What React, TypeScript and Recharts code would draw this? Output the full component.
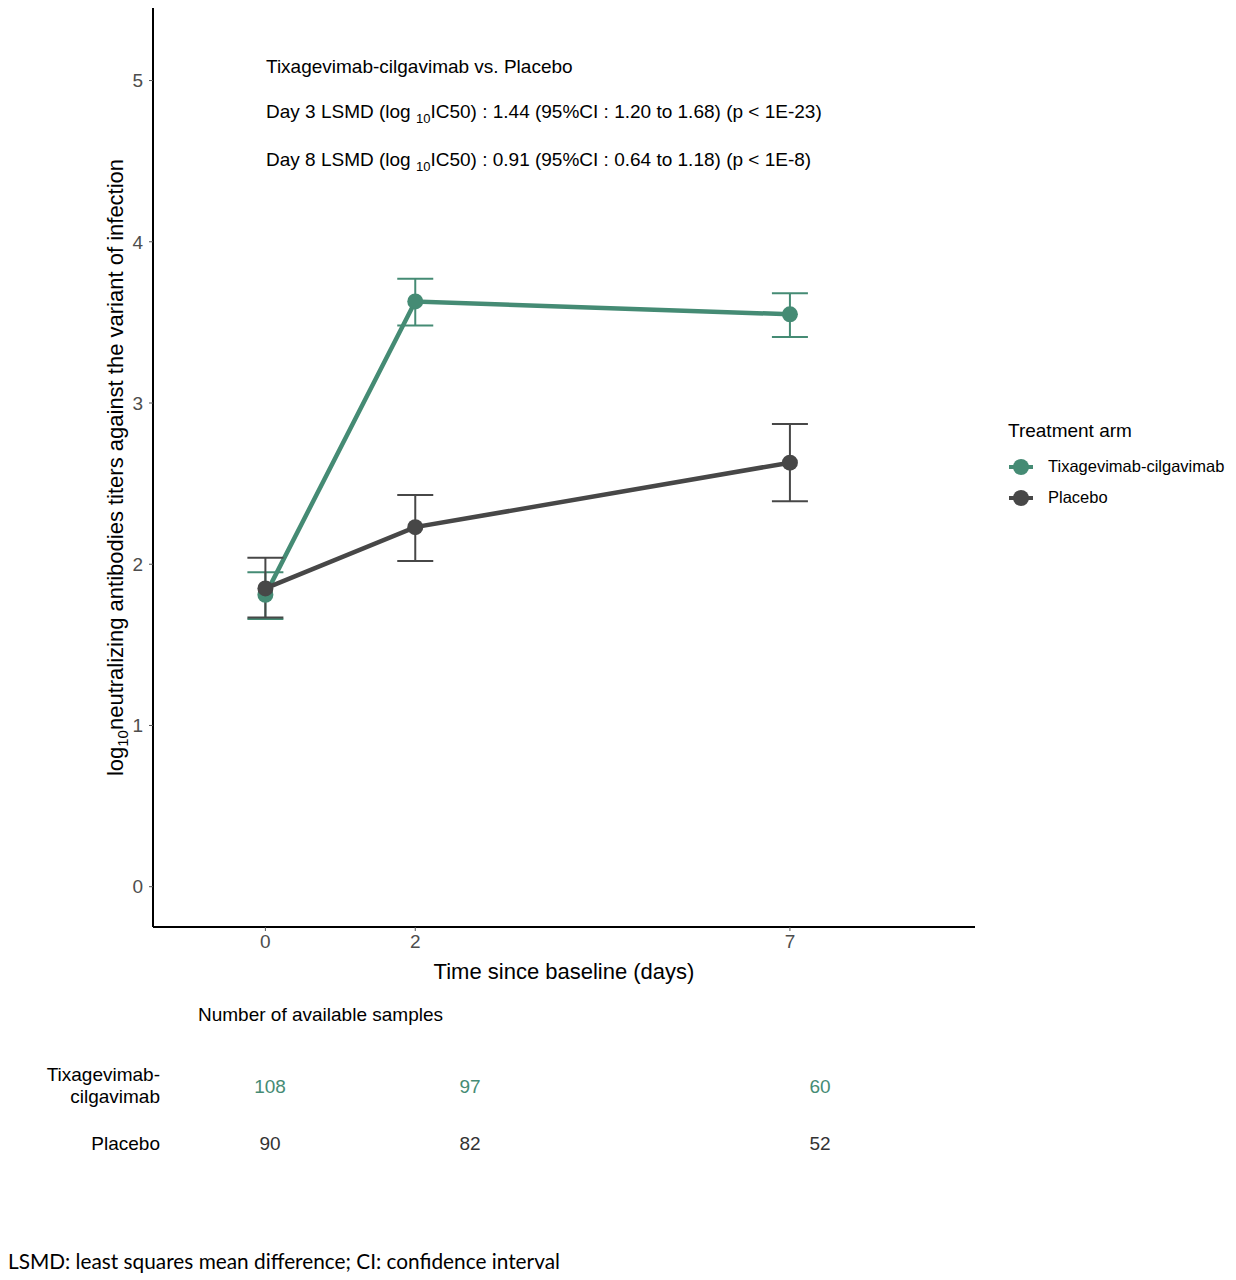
import { LineChart, Line, XAxis, YAxis, ErrorBar } from 'recharts';

// values (log10 IC50, mean and 95% CI)
const DAYS = [0, 2, 7];
const TIXA_MEAN = [1.81, 3.63, 3.55];
const TIXA_LOW = [1.66, 3.48, 3.41];
const TIXA_HIGH = [1.95, 3.77, 3.68];
const PLACEBO_MEAN = [1.85, 2.23, 2.63];
const PLACEBO_LOW = [1.67, 2.02, 2.39];
const PLACEBO_HIGH = [2.04, 2.43, 2.87];
const Y_TICKS = [0, 1, 2, 3, 4, 5];

const N_TIXA = [108, 97, 60];
const N_PLACEBO = [90, 82, 52];

const GREEN = '#458B74';
const DARK = '#474747';
const FONT = '"Liberation Sans", Arial, sans-serif';

const data = DAYS.map((day, i) => ({
  day,
  tixa: TIXA_MEAN[i],
  tixaErr: [TIXA_MEAN[i] - TIXA_LOW[i], TIXA_HIGH[i] - TIXA_MEAN[i]],
  placebo: PLACEBO_MEAN[i],
  placeboErr: [PLACEBO_MEAN[i] - PLACEBO_LOW[i], PLACEBO_HIGH[i] - PLACEBO_MEAN[i]],
}));

function YLabel(props: any) {
  const vb = props.viewBox || {};
  const cx = 115;
  const cy = (vb.y ?? 8) + (vb.height ?? 919) / 2;
  return (
    <text
      x={cx}
      y={cy}
      transform={`rotate(-90, ${cx}, ${cy})`}
      textAnchor="middle"
      dominantBaseline="central"
      fontSize={22}
      fill="#000"
      fontFamily={FONT}
    >
      <tspan>log</tspan>
      <tspan dy={7} fontSize={15}>10</tspan>
      <tspan dy={-7}>neutralizing antibodies titers against the variant of infection</tspan>
    </text>
  );
}

function LegendIcon({ color }: { color: string }) {
  return (
    <svg width={26} height={18} style={{ display: 'block' }}>
      <line x1={1} y1={9} x2={25} y2={9} stroke={color} strokeWidth={4} />
      <circle cx={13} cy={9} r={8} fill={color} />
    </svg>
  );
}

const annot: React.CSSProperties = {
  position: 'absolute',
  left: 266,
  fontSize: 19,
  fontFamily: FONT,
  color: '#000',
  whiteSpace: 'nowrap',
  lineHeight: '22px',
};

export default function App() {
  return (
    <div style={{ position: 'absolute', left: 0, top: 0, width: 1236, height: 1280, background: '#fff', fontFamily: FONT }}>
      <LineChart width={1236} height={990} data={data} margin={{ top: 8, right: 261, bottom: 0, left: 0 }}>
        <XAxis
          dataKey="day"
          type="number"
          domain={[-1.5, 9.47]}
          ticks={DAYS}
          height={63}
          axisLine={{ stroke: '#000', strokeWidth: 2 }}
          tickLine={{ stroke: '#555' }}
          tickSize={4}
          tickMargin={4}
          tick={{ fill: '#4D4D4D', fontSize: 19, fontFamily: FONT }}
          label={{ value: 'Time since baseline (days)', position: 'insideBottom', offset: 11, fontSize: 22, fill: '#000', fontFamily: FONT }}
        />
        <YAxis
          type="number"
          domain={[-0.25, 5.45]}
          ticks={Y_TICKS}
          width={153}
          allowDataOverflow
          axisLine={{ stroke: '#000', strokeWidth: 2 }}
          tickLine={{ stroke: '#555' }}
          tickSize={4}
          tickMargin={6}
          tick={{ fill: '#4D4D4D', fontSize: 19, fontFamily: FONT }}
          label={{ content: (p: any) => <YLabel {...p} /> }}
        />
        <Line
          dataKey="tixa"
          stroke={GREEN}
          strokeWidth={4.5}
          dot={{ r: 8, fill: GREEN, stroke: GREEN, strokeWidth: 0 }}
          activeDot={false}
          isAnimationActive={false}
        >
          <ErrorBar dataKey="tixaErr" direction="y" width={18} stroke={GREEN} strokeWidth={2} isAnimationActive={false} />
        </Line>
        <Line
          dataKey="placebo"
          stroke={DARK}
          strokeWidth={4.5}
          dot={{ r: 8, fill: DARK, stroke: DARK, strokeWidth: 0 }}
          activeDot={false}
          isAnimationActive={false}
        >
          <ErrorBar dataKey="placeboErr" direction="y" width={18} stroke={DARK} strokeWidth={2} isAnimationActive={false} />
        </Line>
      </LineChart>

      {/* annotation inside the plot */}
      <div style={{ ...annot, top: 56 }}>Tixagevimab-cilgavimab vs. Placebo</div>
      <div style={{ ...annot, top: 101 }}>
        Day 3 LSMD (log <sub style={{ fontSize: 13 }}>10</sub>IC50) : 1.44 (95%CI : 1.20 to 1.68) (p &lt; 1E-23)
      </div>
      <div style={{ ...annot, top: 149 }}>
        Day 8 LSMD (log <sub style={{ fontSize: 13 }}>10</sub>IC50) : 0.91 (95%CI : 0.64 to 1.18) (p &lt; 1E-8)
      </div>

      {/* legend */}
      <div style={{ position: 'absolute', left: 1008, top: 420, fontSize: 19, color: '#000' }}>Treatment arm</div>
      {[
        { name: 'Tixagevimab-cilgavimab', color: GREEN, top: 457 },
        { name: 'Placebo', color: DARK, top: 488 },
      ].map((it) => (
        <div key={it.name} style={{ position: 'absolute', left: 1008, top: it.top, display: 'flex', alignItems: 'center', fontSize: 16.5, color: '#000' }}>
          <LegendIcon color={it.color} />
          <span style={{ marginLeft: 14 }}>{it.name}</span>
        </div>
      ))}

      {/* sample size table */}
      <div style={{ position: 'absolute', left: 198, top: 1004, fontSize: 19, color: '#000' }}>Number of available samples</div>
      <div style={{ position: 'absolute', right: 1236 - 160, top: 1064, fontSize: 19, color: '#000', textAlign: 'right', lineHeight: '22px' }}>
        Tixagevimab-<br />cilgavimab
      </div>
      <div style={{ position: 'absolute', right: 1236 - 160, top: 1133, fontSize: 19, color: '#000', textAlign: 'right' }}>Placebo</div>
      {[270, 470, 820].map((x, i) => (
        <div key={'t' + i}>
          <div style={{ position: 'absolute', left: x - 40, width: 80, top: 1076, textAlign: 'center', fontSize: 19, color: GREEN }}>{N_TIXA[i]}</div>
          <div style={{ position: 'absolute', left: x - 40, width: 80, top: 1133, textAlign: 'center', fontSize: 19, color: '#333' }}>{N_PLACEBO[i]}</div>
        </div>
      ))}

      <div style={{ position: 'absolute', left: 8, top: 1248, fontSize: 20.8, color: '#000', fontFamily: 'Lato, "Open Sans", sans-serif' }}>
        LSMD: least squares mean difference; CI: confidence interval
      </div>
    </div>
  );
}
